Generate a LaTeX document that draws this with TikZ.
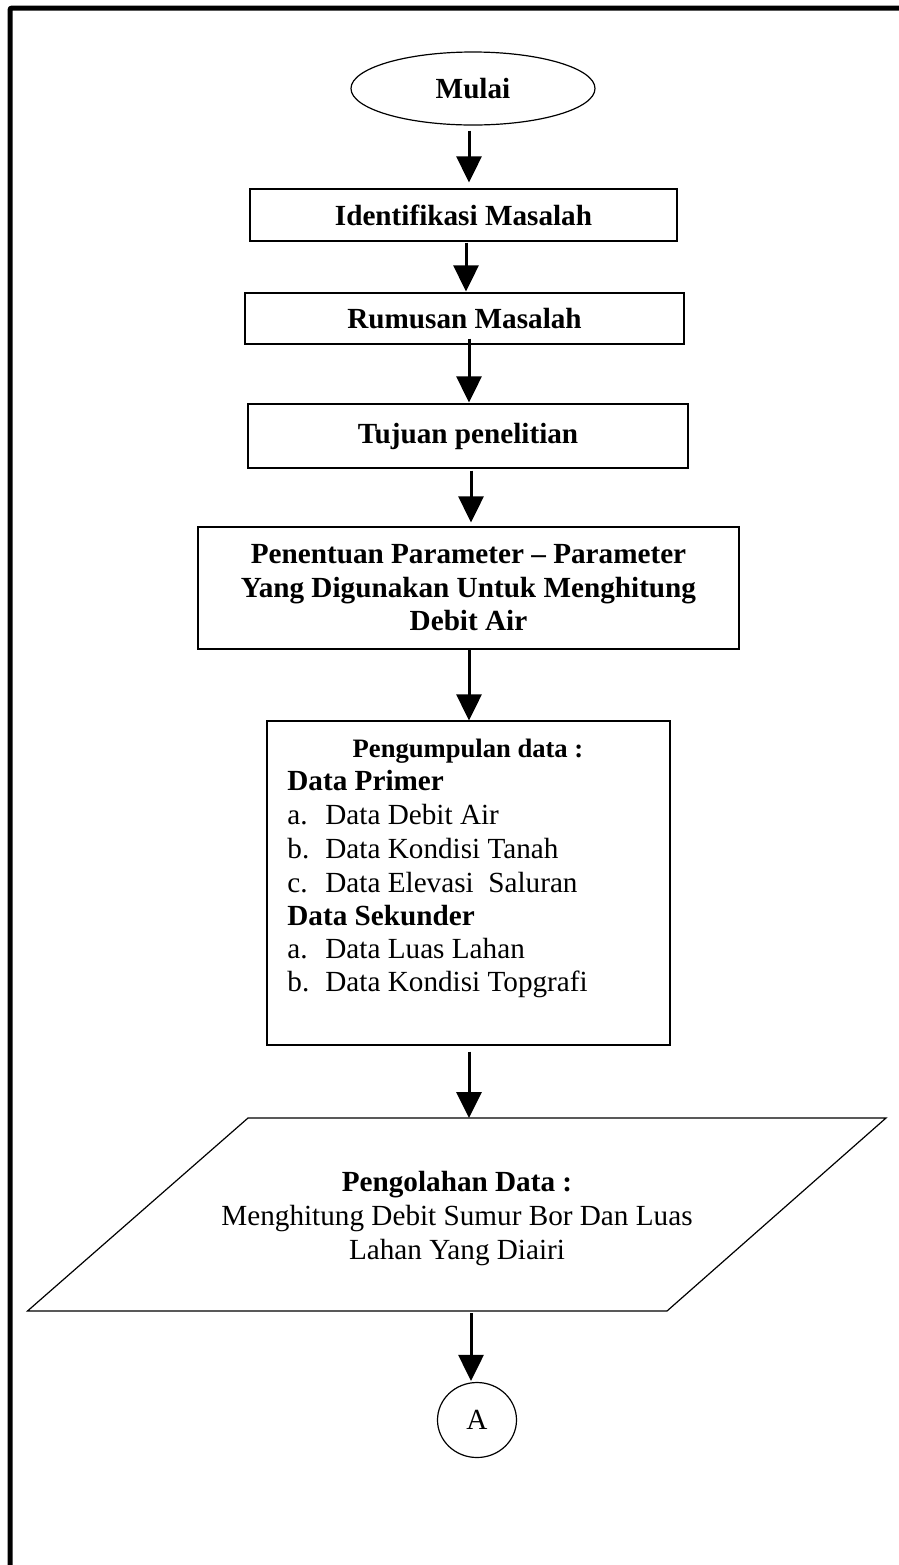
\documentclass[tikz,border=0pt]{standalone}
\usepackage{fontspec}
\setmainfont{Liberation Serif}
\usetikzlibrary{arrows.meta,shapes.geometric}
\begin{document}
\begin{tikzpicture}[x=0.5pt,y=-0.5pt,
  box/.style={draw,line width=0.6pt,inner sep=0pt,font=\fontsize{14.6}{16.75}\selectfont\bfseries,align=center},
  arr/.style={line width=1.5pt,-{Triangle[length=13pt,width=12.5pt]}},
  txt/.style={inner sep=0pt,anchor=base west,font=\fontsize{14.6}{16.75}\selectfont},
  lbl/.style={inner sep=0pt,font=\fontsize{14.6}{17}\selectfont,align=center}
]
\useasboundingbox (0,0) rectangle (899,1565);
% page frame
\draw[line width=2.5pt,rounded corners=1pt] (10,1570) -- (10,8) -- (905,8);

% nodes
\node[box,ellipse,minimum width=122pt,minimum height=36.5pt] (mulai) at (473,88.5) {Mulai};
\node[box,minimum width=213.5pt,minimum height=26pt] (ident) at (463.5,215) {Identifikasi Masalah};
\node[box,minimum width=219.5pt,minimum height=25.5pt] (rumus) at (464.5,318.5) {Rumusan Masalah};
\node[box,minimum width=220pt,minimum height=32pt] (tujuan) at (468,436) {Tujuan penelitian};
\node[box,minimum width=270.5pt,minimum height=61pt] (tentu) at (468.5,588)
  {Penentuan Parameter – Parameter\\Yang Digunakan Untuk Menghitung\\Debit Air};
\node[box,minimum width=201.5pt,minimum height=162pt] (kumpul) at (468.5,883) {};

% text inside data collection box
\node[inner sep=0pt,anchor=base,font=\fontsize{13.3}{15}\selectfont\bfseries] (k0) at (468,757) {Pengumpulan data :};
\node[txt,font=\fontsize{14.6}{16.75}\selectfont\bfseries] (k1) at (287,790) {Data Primer};
\node[txt] (k2) at (287,824) {\makebox[19pt][l]{a.}Data Debit Air};
\node[txt] (k3) at (287,858) {\makebox[19pt][l]{b.}Data Kondisi Tanah};
\node[txt] (k4) at (287,892) {\makebox[19pt][l]{c.}Data Elevasi\ \ Saluran};
\node[txt,font=\fontsize{14.6}{16.75}\selectfont\bfseries] (k5) at (287,925) {Data Sekunder};
\node[txt] (k6) at (287,958) {\makebox[19pt][l]{a.}Data Luas Lahan};
\node[txt] (k7) at (287,991) {\makebox[19pt][l]{b.}Data Kondisi Topgrafi};

% parallelogram
\coordinate (ptl) at (248,1118);
\coordinate (ptr) at (886,1118);
\coordinate (pbr) at (667,1311);
\coordinate (pbl) at (27.5,1311);
\draw[line width=0.6pt] (ptl) -- (ptr) -- (pbr) -- (pbl) -- cycle;
\coordinate (olahtop) at (469,1118);
\coordinate (olahbot) at (471,1311);
\node[lbl] (olah) at (457,1219)
  {\textbf{Pengolahan Data :}\\Menghitung Debit Sumur Bor Dan Luas\\Lahan Yang Diairi};

% connector
\node[draw,ellipse,line width=0.6pt,inner sep=0pt,minimum width=39.5pt,minimum height=37.5pt,
  font=\fontsize{14.6}{16.75}\selectfont] (A) at (477,1420) {A};

% arrows
\coordinate (ax) at (469,0);
\coordinate (axb) at (466,0);
\coordinate (axc) at (471,0);
\draw[arr,shorten <=2.5pt,shorten >=3pt] (mulai.south -| ax) -- (ident.north -| ax);
\draw[arr,shorten <=0.5pt,shorten >=0.5pt] (ident.south -| axb) -- (rumus.north -| axb);
\draw[arr,shorten <=-3pt,shorten >=0.5pt] (rumus.south -| ax) -- (tujuan.north -| ax);
\draw[arr,shorten <=1pt,shorten >=2pt] (tujuan.south -| axc) -- (tentu.north -| axc);
\draw[arr] (tentu.south -| ax) -- (kumpul.north -| ax);
\draw[arr,shorten <=3pt] (kumpul.south -| ax) -- (olahtop);
\draw[arr,shorten <=1pt,shorten >=0.5pt] (olahbot) -- (A.north -| axc);
\end{tikzpicture}
\end{document}
